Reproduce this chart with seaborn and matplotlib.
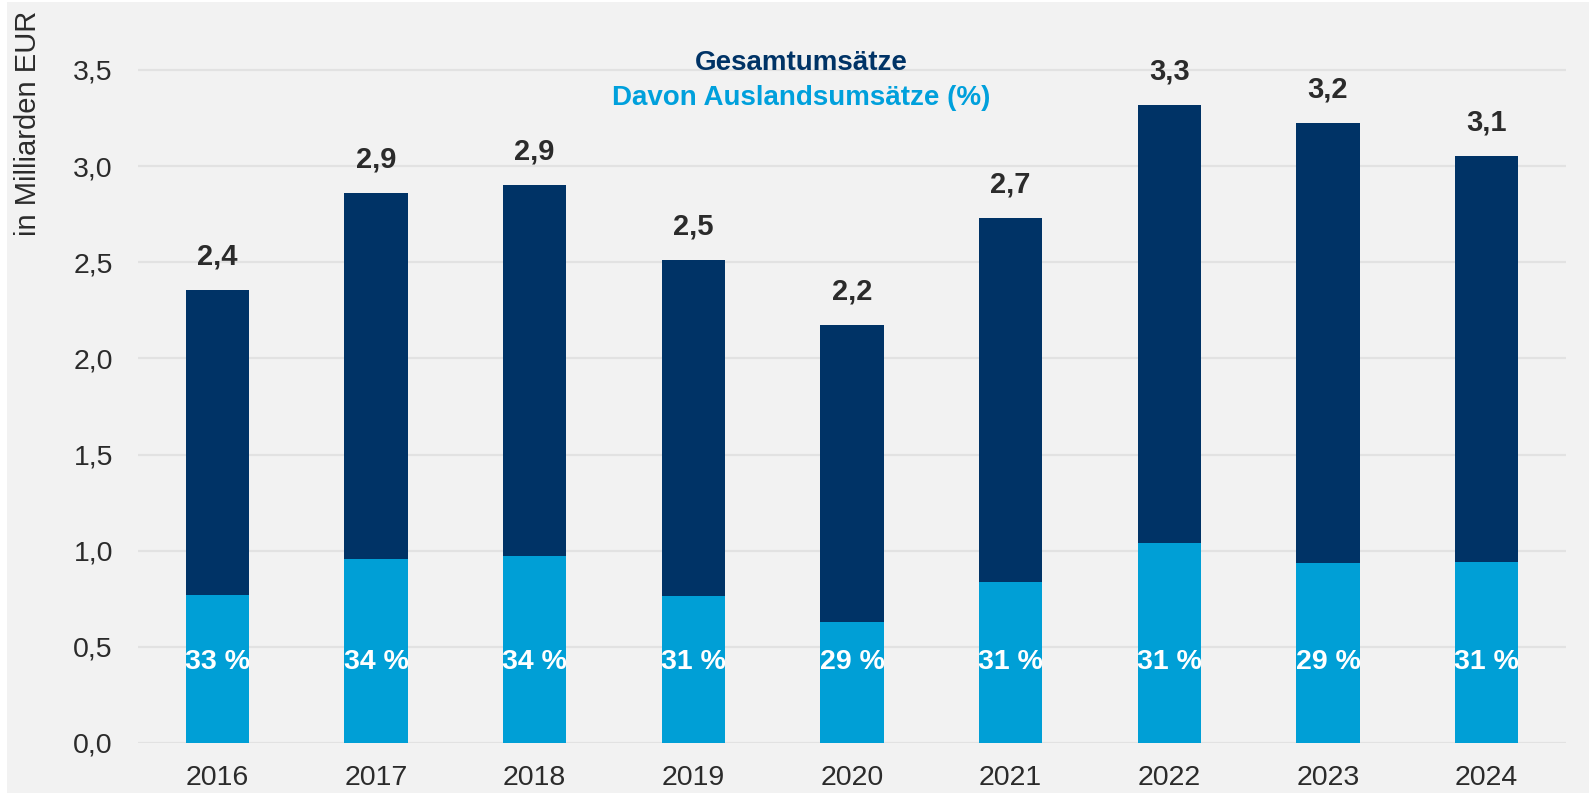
import matplotlib
matplotlib.use("Agg")
import matplotlib.pyplot as plt
import seaborn as sns
import pandas as pd
from matplotlib.patches import Rectangle

years = ["2016", "2017", "2018", "2019", "2020", "2021", "2022", "2023", "2024"]
total = [2.356, 2.859, 2.900, 2.510, 2.173, 2.732, 3.318, 3.226, 3.051]
foreign = [0.770, 0.957, 0.972, 0.767, 0.630, 0.836, 1.038, 0.936, 0.941]
foreign_pct = [33, 34, 34, 31, 29, 31, 31, 29, 31]
yticks = [0.0, 0.5, 1.0, 1.5, 2.0, 2.5, 3.0, 3.5]

NAVY = "#003366"
LIGHT = "#009fd6"
BG = "#f2f2f2"
TXT = "#2b2b2b"

df = pd.DataFrame({"Jahr": years, "Gesamt": total, "Ausland": foreign, "Pct": foreign_pct})

sns.set_theme(style="white")
plt.rcParams["font.family"] = ["Liberation Sans", "DejaVu Sans"]

fig = plt.figure(figsize=(15.89, 7.93), dpi=100, facecolor="white")
fig.patches.append(Rectangle((7 / 1589, 0), 1, 1 - 2 / 793, transform=fig.transFigure,
                             facecolor=BG, edgecolor="none", zorder=-10))
ax = fig.add_axes([138 / 1589, 50 / 793, 1428 / 1589, 743 / 793])
ax.set_facecolor(BG)
ax.patch.set_alpha(0)

sns.barplot(data=df, x="Jahr", y="Gesamt", color=NAVY, saturation=1, width=0.4, ax=ax,
            zorder=3, linewidth=0, edgecolor="none")
sns.barplot(data=df, x="Jahr", y="Ausland", color=LIGHT, saturation=1, width=0.4, ax=ax,
            zorder=3, linewidth=0, edgecolor="none")

ax.set_xlim(-0.5, len(years) - 0.5)
ax.set_ylim(0, 3.864)
ax.set_yticks(yticks)
ax.set_yticklabels([f"{t:.1f}".replace(".", ",") for t in yticks])
ax.yaxis.grid(True, color="#e2e2e2", linewidth=1.6, zorder=0)
ax.xaxis.grid(False)
ax.set_axisbelow(True)
for s in ax.spines.values():
    s.set_visible(False)
ax.tick_params(axis="both", length=0, labelsize=20.5, colors=TXT)
ax.tick_params(axis="y", pad=18)
ax.tick_params(axis="x", pad=16)
ax.set_xlabel("")
ax.set_ylabel("")

for i, (t, p) in enumerate(zip(total, foreign_pct)):
    ax.annotate(f"{t:.1f}".replace(".", ","), xy=(i, t), xytext=(0, 14),
                textcoords="offset points", ha="center", va="bottom",
                fontsize=21, fontweight="bold", color=TXT, zorder=5)
    ax.text(i, 0.42, f"{p} %", ha="center", va="center", fontsize=20.5,
            fontweight="bold", color="white", zorder=5)

fig.text(28 / 1589, 1 - 123.5 / 793, "in Milliarden EUR", rotation=90, ha="center",
         va="center", fontsize=21, color=TXT)
fig.text(801 / 1589, 1 - 63 / 793, "Gesamtumsätze", ha="center", va="center",
         fontsize=20, fontweight="bold", color=NAVY)
fig.text(801 / 1589, 1 - 98 / 793, "Davon Auslandsumsätze (%)", ha="center", va="center",
         fontsize=20, fontweight="bold", color="#00a0dc")

fig.savefig("out.png", dpi=100, facecolor="white")
